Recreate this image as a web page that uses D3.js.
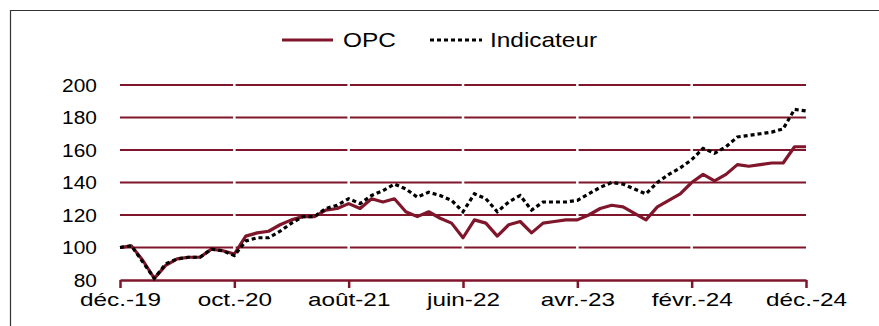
<!DOCTYPE html>
<html>
<head>
<meta charset="utf-8">
<script src="https://cdn.jsdelivr.net/npm/d3@7"></script>
<style>
  html, body { margin: 0; padding: 0; background: #fff; }
  svg { display: block; font-family: "Liberation Sans", Arial, sans-serif; }
</style>
</head>
<body>
<svg id="chart" width="879" height="326"></svg>
<script>
// Monthly index values, déc.-19 = 100, through déc.-24
const opc = [100, 101, 92, 81, 89, 93, 94, 94, 99, 98, 96,
  107, 109, 110, 114, 117, 119, 119, 123, 124, 127,
  124, 130, 128, 130, 122, 119, 122, 118, 115, 106,
  117, 115, 107, 114, 116, 109, 115, 116, 117, 117,
  120, 124, 126, 125, 121, 117, 125, 129, 133, 140,
  145, 141, 145, 151, 150, 151, 152, 152, 162, 162];
const indicateur = [100, 101, 91, 81, 90, 93, 94, 94, 99, 98, 95,
  104, 106, 106, 110, 115, 119, 119, 124, 126, 130,
  127, 132, 135, 139, 136, 131, 134, 132, 129, 122,
  133, 130, 122, 128, 132, 123, 128, 128, 128, 129,
  133, 137, 140, 139, 136, 133, 140, 145, 149, 154,
  161, 158, 162, 168, 169, 170, 171, 173, 185, 184];
const tickIndex = [0, 10, 20, 30, 40, 50, 60];
const tickLabels = ["déc.-19", "oct.-20", "août-21", "juin-22", "avr.-23", "févr.-24", "déc.-24"];
const yTicks = [80, 100, 120, 140, 160, 180, 200];
const seriesNames = ["OPC", "Indicateur"];

const maroon = "#80162b";
const svg = d3.select("#chart");

// frame around the figure (left and top edges)
svg.append("path")
  .attr("d", "M10.5,326 V10.5 H879")
  .attr("fill", "none").attr("stroke", "#333").attr("stroke-width", 1.2);

const x = d3.scaleLinear().domain([0, opc.length - 1]).range([120, 806]);
const y = d3.scaleLinear().domain([80, 200]).range([280, 85]);

// text drawn slightly wide, anchored at (data-x, data-y)
function wideText(sel, sx) {
  sel.each(function () {
    const t = d3.select(this);
    const tx = +t.attr("data-x"), ty = +t.attr("data-y");
    t.attr("transform", `translate(${tx},${ty}) scale(${sx},1)`);
  });
}

// horizontal gridlines
svg.append("g").selectAll("line")
  .data(yTicks.filter(v => v > 80))
  .join("line")
  .attr("x1", x(0)).attr("x2", x(opc.length - 1))
  .attr("y1", d => y(d)).attr("y2", d => y(d))
  .attr("stroke", maroon).attr("stroke-width", 2.2);

// small breaks in the gridlines at the category ticks
svg.append("g").selectAll("line")
  .data(tickIndex.slice(1, -1))
  .join("line")
  .attr("x1", d => x(d)).attr("x2", d => x(d))
  .attr("y1", y(200) - 3).attr("y2", y(80) - 3)
  .attr("stroke", "#fff").attr("stroke-width", 2.5);

// y-axis labels
svg.append("g").selectAll("text")
  .data(yTicks)
  .join("text")
  .attr("data-x", 97).attr("data-y", d => y(d) + 6.5)
  .attr("text-anchor", "end")
  .attr("font-size", 19).attr("fill", "#000")
  .text(d => d)
  .call(wideText, 1.1);

// x axis
const xAxis = d3.axisBottom(x)
  .tickValues(tickIndex)
  .tickFormat((d, i) => tickLabels[i])
  .tickSize(8)
  .tickPadding(5)
  .tickSizeOuter(0);
const gx = svg.append("g").attr("transform", `translate(0,${y(80)})`).call(xAxis);
gx.select(".domain").attr("stroke", maroon).attr("stroke-width", 2.5);
gx.selectAll(".tick line").attr("stroke", maroon).attr("stroke-width", 2.5);
gx.selectAll(".tick text")
  .attr("font-size", 19).attr("fill", "#000")
  .attr("font-family", "Liberation Sans, Arial, sans-serif")
  .attr("data-x", 0).attr("data-y", 13)
  .attr("y", null).attr("dy", "0.71em")
  .call(wideText, 1.28);

// series lines
const line = d3.line().x((d, i) => x(i)).y(d => y(d));
svg.append("path").datum(opc)
  .attr("d", line).attr("fill", "none")
  .attr("stroke", maroon).attr("stroke-width", 3.2)
  .attr("stroke-linejoin", "round");
svg.append("path").datum(indicateur)
  .attr("d", line).attr("fill", "none")
  .attr("stroke", "#000").attr("stroke-width", 3.2)
  .attr("stroke-dasharray", "4,3");

// legend
const legend = svg.append("g");
legend.append("line").attr("x1", 282).attr("x2", 333).attr("y1", 40).attr("y2", 40)
  .attr("stroke", maroon).attr("stroke-width", 3.2);
legend.append("text").attr("data-x", 343).attr("data-y", 47).attr("font-size", 20)
  .text(seriesNames[0]).call(wideText, 1.22);
legend.append("line").attr("x1", 430).attr("x2", 482).attr("y1", 40).attr("y2", 40)
  .attr("stroke", "#000").attr("stroke-width", 3.2).attr("stroke-dasharray", "4,3");
legend.append("text").attr("data-x", 490).attr("data-y", 47).attr("font-size", 20)
  .text(seriesNames[1]).call(wideText, 1.22);
</script>
</body>
</html>
